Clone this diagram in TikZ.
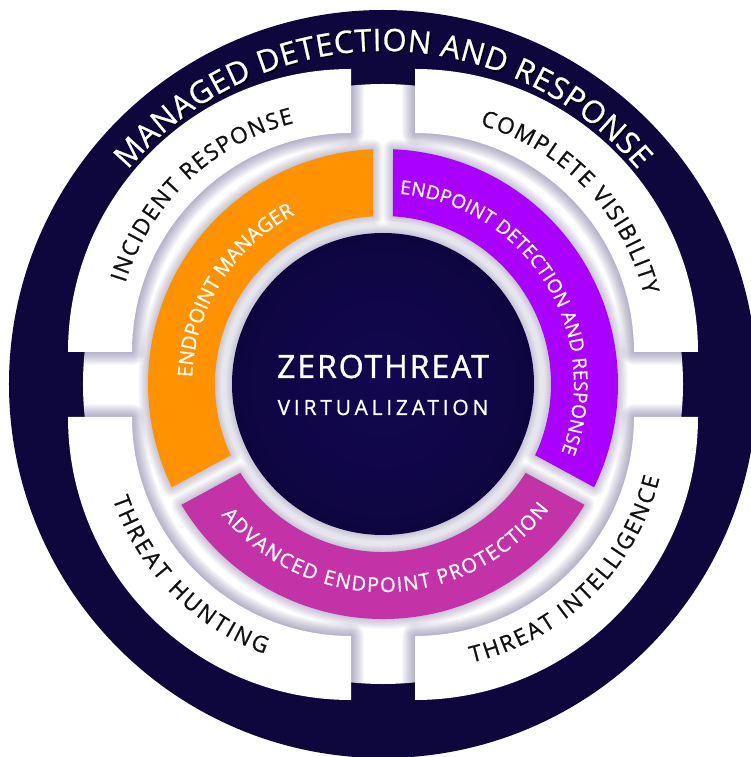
\documentclass[tikz,border=0pt]{standalone}
\usepackage{fontspec}
\setmainfont{Open Sans}
\newfontfamily\ztfont{Open Sans}[LetterSpace=6, FakeBold=1.2]
\newfontfamily\vzfont{Open Sans}[LetterSpace=18, FakeBold=0.9]
\newfontfamily\labfont{Open Sans}[FakeBold=0.8]
\usetikzlibrary{decorations.text}
\definecolor{navy}{RGB}{13,7,62}
\definecolor{orangeseg}{RGB}{255,146,0}
\definecolor{purpleseg}{RGB}{170,0,255}
\definecolor{magentaseg}{RGB}{196,50,168}
\definecolor{shadowc}{RGB}{72,64,124}
\definecolor{corein}{RGB}{18,7,80}
\definecolor{coreout}{RGB}{4,2,26}
\definecolor{labeldark}{RGB}{17,17,17}
\definecolor{textshadow}{RGB}{0,0,10}
\pgfdeclareradialshading{coreshade}{\pgfpointorigin}{color(0bp)=(corein); color(22bp)=(corein!75!coreout); color(50bp)=(coreout)}
\newcommand\fMDR{\labfont\fontsize{31}{31}\selectfont}
\newcommand\fSec{\labfont\fontsize{22.5}{22.5}\selectfont}
\newcommand\fRing{\labfont\fontsize{20}{20}\selectfont}
\newcommand\fRingS{\labfont\fontsize{19}{19}\selectfont}
\newcommand\glow[1]{%
  \foreach \w in {2,4,...,26}{%
    \draw[glowline, line width=\w pt, opacity=0.035] #1;}}
\newcommand\softglow[1]{%
  \foreach \w in {2,4,...,20}{%
    \draw[glowline, line width=\w pt, opacity=0.033] #1;}}
\def\pathUL{([shift={(-32,32)}]90:283) arc[start angle=90,end angle=180,radius=283] -- ([shift={(-32,32)}]180:219) arc[start angle=180,end angle=90,radius=219] -- cycle}
\def\pathUR{([shift={(32,32)}]0:283) arc[start angle=0,end angle=90,radius=283] -- ([shift={(32,32)}]90:219) arc[start angle=90,end angle=0,radius=219] -- cycle}
\def\pathLL{([shift={(-32,-33)}]180:283) arc[start angle=180,end angle=270,radius=283] -- ([shift={(-32,-33)}]270:219) arc[start angle=270,end angle=180,radius=219] -- cycle}
\def\pathLR{([shift={(32,-33)}]270:283) arc[start angle=270,end angle=360,radius=283] -- ([shift={(32,-33)}]360:219) arc[start angle=360,end angle=270,radius=219] -- cycle}
\def\pathOr{(92.44:235) arc[start angle=92.44,end angle=206.06,radius=235] -- (205.09:168) arc[start angle=205.09,end angle=93.41,radius=168] -- cycle}
\def\pathMg{(210.94:235) arc[start angle=210.94,end angle=329.06,radius=235] -- (328.09:168) arc[start angle=328.09,end angle=211.91,radius=168] -- cycle}
\def\pathPu{(-26.06:235) arc[start angle=-26.06,end angle=87.56,radius=235] -- (86.59:168) arc[start angle=86.59,end angle=-25.09,radius=168] -- cycle}
\tikzset{
  glowline/.style={draw=shadowc, line join=round},
  curvetext/.style 2 args={decorate, decoration={text along path, text align=fit to path, text color=#2, text={#1}}},
  sectorfill/.style={fill=white},
}
\begin{document}
\begin{tikzpicture}[x=1pt,y=1pt]
\useasboundingbox (-383,-373) rectangle (367,384);
\fill[white] (-383,-373) rectangle (367,384);
% outer navy disc and white backing
\fill[navy] (0,0) circle (374);
\fill[white] (0,0) circle (300);
% shadows of the white sectors
\begin{scope}
  \clip (0,0) circle (300);
  \glow{\pathUL}
  \glow{\pathUR}
  \glow{\pathLL}
  \glow{\pathLR}
\end{scope}
\fill[sectorfill] \pathUL;
\fill[sectorfill] \pathUR;
\fill[sectorfill] \pathLL;
\fill[sectorfill] \pathLR;
% shadows of the coloured ring and the core
\softglow{\pathOr}
\softglow{\pathMg}
\softglow{\pathPu}
\softglow{(0,0) circle (151)}
\fill[orangeseg] \pathOr;
\fill[magentaseg] \pathMg;
\fill[purpleseg] \pathPu;
\shade[shading=coreshade] (0,0) circle (151);
% curved labels
\path[curvetext={|\fMDR|MANAGED DETECTION AND RESPONSE}{textshadow}, opacity=0.7] ([shift={(1.5,-1.5)}]140:333) arc[start angle=140,end angle=40,radius=333];
\path[curvetext={|\fMDR|MANAGED DETECTION AND RESPONSE}{white}] (140:333) arc[start angle=140,end angle=40,radius=333];
\path[curvetext={|\fSec|INCIDENT RESPONSE}{labeldark}] ([shift={(-32,32)}]163:236) arc[start angle=163,end angle=104,radius=236];
\path[curvetext={|\fSec|COMPLETE VISIBILITY}{labeldark}] ([shift={(32,32)}]74:236) arc[start angle=74,end angle=14,radius=236];
\path[curvetext={|\fSec|THREAT HUNTING}{labeldark}] ([shift={(-32,-33)}]199:252) arc[start angle=199,end angle=250,radius=252];
\path[curvetext={|\fSec|THREAT INTELLIGENCE}{labeldark}] ([shift={(32,-33)}]283:252) arc[start angle=283,end angle=346,radius=252];
\path[curvetext={|\fRing|ENDPOINT MANAGER}{white}] (178:191) arc[start angle=178,end angle=118.5,radius=191];
\path[curvetext={|\fRingS|ENDPOINT DETECTION AND RESPONSE}{white}] (85:191) arc[start angle=85,end angle=-21,radius=191];
\path[curvetext={|\fRing|ADVANCED ENDPOINT PROTECTION}{white}] (219:208) arc[start angle=219,end angle=323,radius=208];
% centre text
\node[anchor=base, text=white, inner sep=0, font=\ztfont\fontsize{32}{32}\selectfont] (zt) at (0,6) {ZEROTHREAT};
\node[anchor=base, text=white, inner sep=0, font=\vzfont\fontsize{21}{21}\selectfont] (vz) at (0,-31) {VIRTUALIZATION};
\end{tikzpicture}
\end{document}
